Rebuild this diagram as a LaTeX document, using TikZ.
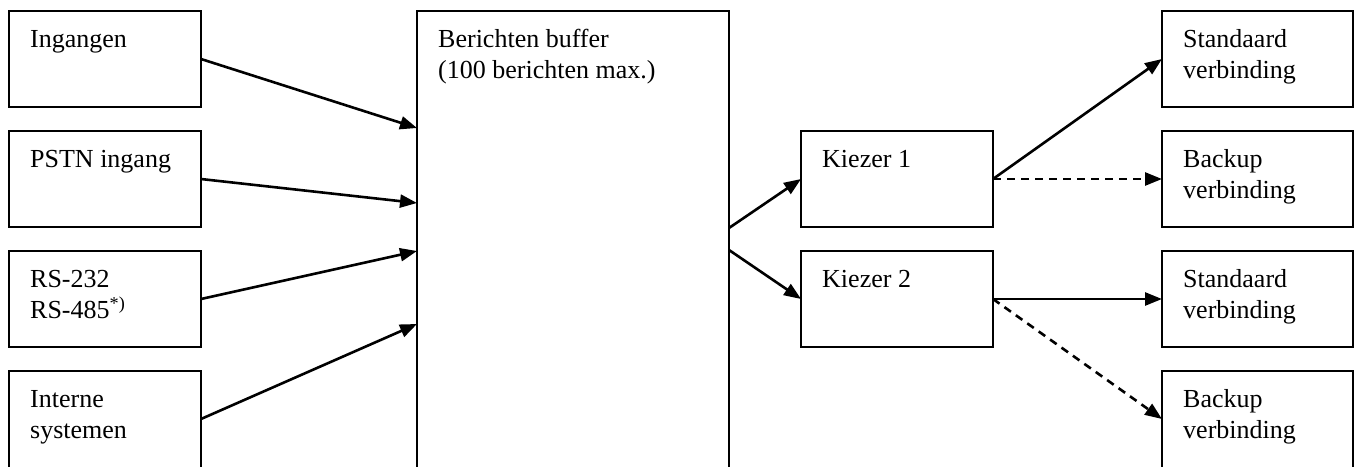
\documentclass[tikz,border=0pt]{standalone}
\usepackage{fontspec}
\setmainfont{Liberation Serif}
\usetikzlibrary{arrows.meta,calc}
\newcommand\fstrut{\rule{0pt}{22pt}}
\begin{document}
\begin{tikzpicture}[x=1pt,y=1pt,
  box/.style={draw, line width=2pt, rectangle, minimum width=192pt, minimum height=96pt, anchor=north west, inner sep=0pt, outer sep=0pt},
  lbl/.style={anchor=north west, inner sep=0pt, align=left, font=\fontsize{26}{31}\selectfont},
  arr/.style={line width=2.6pt, -{Triangle[length=17pt,width=13pt]}},
  darr/.style={arr, dash pattern=on 8pt off 6pt}]
\useasboundingbox (0,0) rectangle (1354,-466);
% left column
\node[box] (in1) at (9,-11) {};
\node[box] (in2) at (9,-131) {};
\node[box] (in3) at (9,-251) {};
\node[box, minimum height=110pt] (in4) at (9,-371) {};
% buffer
\node[box, minimum width=312pt, minimum height=480pt] (buf) at (417,-11) {};
% selectors
\node[box] (k1) at (801,-131) {};
\node[box] (k2) at (801,-251) {};
% right column
\node[box, minimum width=191pt] (s1) at (1162,-11) {};
\node[box, minimum width=191pt] (b1) at (1162,-131) {};
\node[box, minimum width=191pt] (s2) at (1162,-251) {};
\node[box, minimum width=191pt, minimum height=110pt] (b2) at (1162,-371) {};
% labels
\node[lbl] (tin1) at ($(in1.north west)+(21,-14)$) {\fstrut Ingangen};
\node[lbl] (tin2) at ($(in2.north west)+(21,-14)$) {\fstrut PSTN ingang};
\node[lbl] (tin3) at ($(in3.north west)+(21,-14)$) {\fstrut RS-232\\RS-485\textsuperscript{*)}};
\node[lbl] (tin4) at ($(in4.north west)+(21,-14)$) {\fstrut Interne\\systemen};
\node[lbl] (tbuf) at ($(buf.north west)+(21,-14)$) {\fstrut Berichten buffer\\(100 berichten max.)};
\node[lbl] (tk1) at ($(k1.north west)+(21,-14)$) {\fstrut Kiezer 1};
\node[lbl] (tk2) at ($(k2.north west)+(21,-14)$) {\fstrut Kiezer 2};
\node[lbl] (ts1) at ($(s1.north west)+(21,-14)$) {\fstrut Standaard\\verbinding};
\node[lbl] (tb1) at ($(b1.north west)+(21,-14)$) {\fstrut Backup\\verbinding};
\node[lbl] (ts2) at ($(s2.north west)+(21,-14)$) {\fstrut Standaard\\verbinding};
\node[lbl] (tb2) at ($(b2.north west)+(21,-14)$) {\fstrut Backup\\verbinding};
% connection points on the buffer
\coordinate (bi1) at ($(buf.north west)+(0,-117)$);
\coordinate (bi2) at ($(buf.north west)+(0,-192)$);
\coordinate (bi3) at ($(buf.north west)+(0,-240)$);
\coordinate (bi4) at ($(buf.north west)+(0,-313)$);
\coordinate (bo1) at ($(buf.north east)+(0,-217)$);
\coordinate (bo2) at ($(buf.north east)+(0,-239)$);
% arrows
\draw[arr] ($(in1.north east)+(0,-48)$) -- (bi1);
\draw[arr] ($(in2.north east)+(0,-48)$) -- (bi2);
\draw[arr] ($(in3.north east)+(0,-48)$) -- (bi3);
\draw[arr] ($(in4.north east)+(0,-48)$) -- (bi4);
\draw[arr] (bo1) -- (k1.west);
\draw[arr] (bo2) -- (k2.west);
\draw[arr] (k1.east) -- (s1.west);
\draw[darr] (k1.east) -- (b1.west);
\draw[arr] (k2.east) -- (s2.west);
\draw[darr] (k2.east) -- ($(b2.north west)+(0,-48)$);
\end{tikzpicture}
\end{document}
